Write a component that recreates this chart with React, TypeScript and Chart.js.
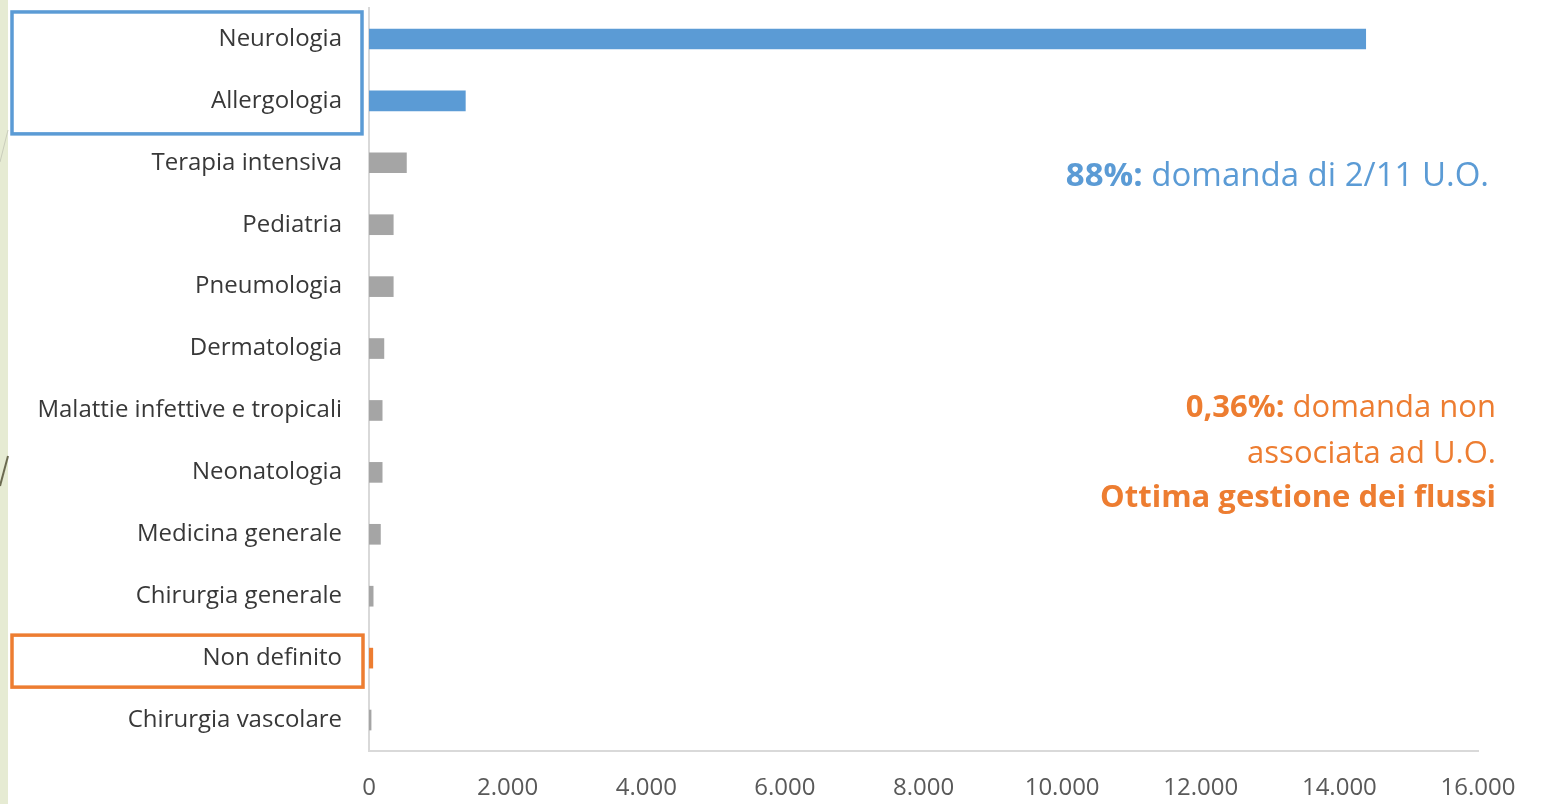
import React, { useEffect, useRef } from "react";
import { Chart, registerables } from "chart.js";

Chart.register(...registerables);

const categories = [
  "Neurologia",
  "Allergologia",
  "Terapia intensiva",
  "Pediatria",
  "Pneumologia",
  "Dermatologia",
  "Malattie infettive e tropicali",
  "Neonatologia",
  "Medicina generale",
  "Chirurgia generale",
  "Non definito",
  "Chirurgia vascolare",
];

const values = [14380, 1390, 540, 350, 350, 215, 190, 190, 165, 60, 55, 30];

const barColors = [
  "#5b9bd5",
  "#5b9bd5",
  "#a5a5a5",
  "#a5a5a5",
  "#a5a5a5",
  "#a5a5a5",
  "#a5a5a5",
  "#a5a5a5",
  "#a5a5a5",
  "#a5a5a5",
  "#ed7d31",
  "#a5a5a5",
];

const xTicks = [0, 2000, 4000, 6000, 8000, 10000, 12000, 14000, 16000];

const blueNote = { bold: "88%:", normal: " domanda di 2/11 U.O." };
const orangeNote = [
  { bold: "0,36%:", normal: " domanda non" },
  { bold: "", normal: "associata ad U.O." },
  { bold: "Ottima gestione dei flussi", normal: "" },
];

const FONT = "'Open Sans', 'Liberation Sans', sans-serif";

function fmt(v: number): string {
  return String(Math.round(v)).replace(/\B(?=(\d{3})+(?!\d))/g, ".");
}

const overlayPlugin = {
  id: "overlay",
  afterDraw(chart: any) {
    const ctx = chart.ctx as CanvasRenderingContext2D;
    const y = chart.scales.y;
    ctx.save();
    ctx.lineWidth = 3.5;
    ctx.strokeStyle = "#5b9bd5";
    const bTop = y.getPixelForValue(0) - 27;
    const bBot = y.getPixelForValue(1) + 33;
    ctx.strokeRect(12, bTop, 350, bBot - bTop);
    ctx.strokeStyle = "#ed7d31";
    const oTop = y.getPixelForValue(10) - 23;
    const oBot = y.getPixelForValue(10) + 29;
    ctx.strokeRect(12, oTop, 351, oBot - oTop);

    const drawMixed = (
      bold: string,
      normal: string,
      right: number,
      cy: number,
      color: string,
      size: number
    ) => {
      ctx.fillStyle = color;
      ctx.textBaseline = "middle";
      ctx.textAlign = "right";
      ctx.font = `${size}px ${FONT}`;
      const nw = normal ? ctx.measureText(normal).width : 0;
      if (normal) ctx.fillText(normal, right, cy);
      if (bold) {
        ctx.font = `bold ${size}px ${FONT}`;
        ctx.fillText(bold, right - nw, cy);
      }
    };
    drawMixed(blueNote.bold, blueNote.normal, 1489, 177, "#5b9bd5", 33);
    const oy = [408, 454, 498];
    orangeNote.forEach((l, i) =>
      drawMixed(l.bold, l.normal, 1496, oy[i], "#ed7d31", 31)
    );
    ctx.restore();
  },
};

export default function App() {
  const ref = useRef<HTMLCanvasElement | null>(null);
  useEffect(() => {
    if (!ref.current) return;
    const chart = new Chart(ref.current, {
      type: "bar",
      data: {
        labels: categories,
        datasets: [
          {
            data: values,
            backgroundColor: barColors,
            barThickness: 20,
          },
        ],
      },
      options: {
        indexAxis: "y",
        animation: false,
        responsive: false,
        layout: { padding: { top: 8, right: 67, left: 0, bottom: 0 } },
        plugins: { legend: { display: false }, tooltip: { enabled: false } },
        scales: {
          x: {
            min: 0,
            max: 16000,
            afterBuildTicks: (s: any) => {
              s.ticks = xTicks.map((v) => ({ value: v }));
            },
            afterFit: (s: any) => {
              s.height = 53;
              s.paddingLeft = 0;
              s.paddingRight = 0;
            },
            grid: { display: false, drawTicks: false },
            border: { display: true, color: "#d9d9d9", width: 2 },
            ticks: {
              padding: 23,
              color: "#595959",
              font: { family: FONT, size: 24 },
              maxRotation: 0,
              callback: (v: any) => fmt(Number(v)),
            },
          },
          y: {
            afterFit: (s: any) => {
              s.width = 369;
              s.paddingTop = 0;
              s.paddingBottom = 0;
            },
            grid: { display: false, drawTicks: false },
            border: { display: true, color: "#d9d9d9", width: 2 },
            ticks: {
              padding: 27,
              color: "#383838",
              font: { family: FONT, size: 24 },
              autoSkip: false,
            },
          },
        },
      },
      plugins: [overlayPlugin],
    });
    return () => chart.destroy();
  }, []);
  return (
    <div style={{ position: "fixed", left: 0, top: 0, width: 1545, height: 804, background: "#fff" }}>
      <div style={{ position: "absolute", left: 0, top: 0, width: 8, height: 804, background: "#e6ebd3" }} />
      <svg style={{ position: "absolute", left: 0, top: 0 }} width={20} height={804}>
        <line x1={8} y1={130} x2={0} y2={162} stroke="#c9ccbb" strokeWidth={1} />
        <line x1={8} y1={456} x2={0} y2={486} stroke="#6b6a50" strokeWidth={2} />
      </svg>
      <canvas ref={ref} width={1545} height={804} style={{ position: "absolute", left: 0, top: 0, display: "block" }} />
    </div>
  );
}
